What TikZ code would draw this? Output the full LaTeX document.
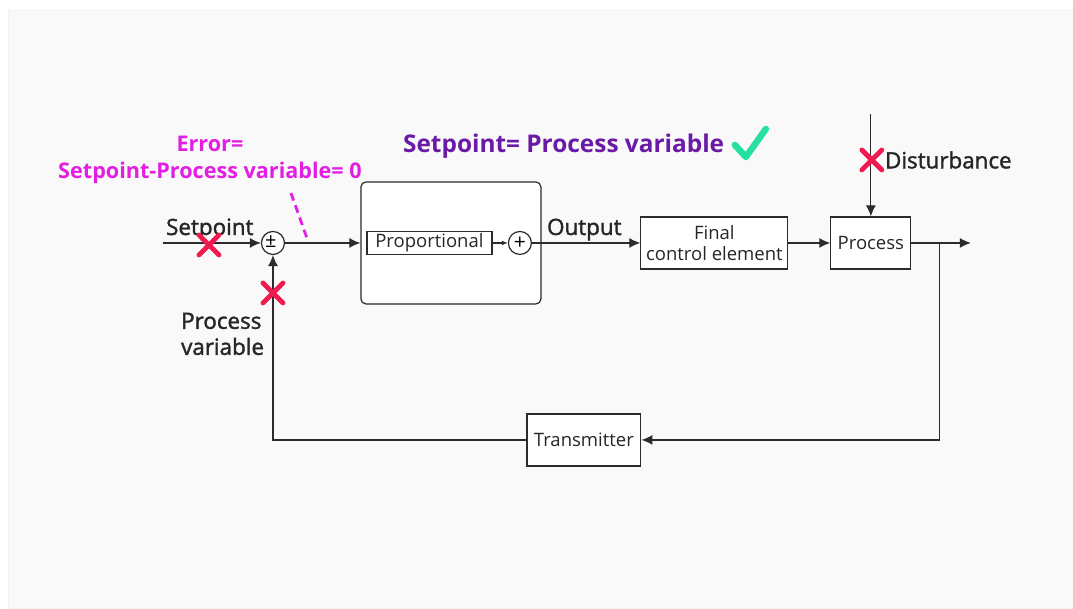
\documentclass[tikz,border=0pt]{standalone}
\usepackage{fontspec}
\setmainfont{Open Sans}
\newfontfamily\labelfont[FakeBold=1.6]{Open Sans}
\usetikzlibrary{arrows.meta,positioning}
\definecolor{panel}{HTML}{F9F9F9}
\definecolor{crossred}{HTML}{EF1A4F}
\definecolor{checkgreen}{HTML}{25E0A2}
\definecolor{titlepurple}{HTML}{6A1AA6}
\definecolor{errmagenta}{HTML}{E31EE3}
\definecolor{linegray}{HTML}{2B2B2B}
\newcommand\boxfont{\fontsize{18.5}{21}\selectfont}
\newcommand\lblfont{\labelfont\fontsize{22.4}{26}\selectfont}
\tikzset{
  redx/.pic={\draw[draw=crossred, line width=4.8pt, line cap=round] (-10,-10) -- (10,10) (-10,10) -- (10,-10);}
}

\begin{document}
\begin{tikzpicture}[x=1pt,y=-1pt,
  block/.style={draw=linegray, line width=1.2pt, fill=white, font=\boxfont, align=center, inner sep=0pt, text=black!85},
  sumnode/.style={circle, draw=linegray, line width=1.2pt, fill=white, minimum size=23, inner sep=0pt, font=\fontsize{21}{21}\selectfont},
  wire/.style={draw=linegray, line width=1.2pt},
  arr/.style={wire, -{Latex[length=11pt,width=10pt]}},
  smallarr/.style={wire, -{Latex[length=6pt,width=5pt]}},
  lbl/.style={font=\lblfont, text=black!85, inner sep=0pt},
]
\fill[white] (0,0) rectangle (1073,608);
\filldraw[fill=panel, draw=black!6] (8,10) rectangle (1073,608);
\useasboundingbox (0,0) rectangle (1073,608);

% blocks
\node[sumnode] (sum1) at (273,243) {};
\node[font=\fontsize{20}{20}\selectfont, inner sep=0pt] (sign) at (271,242) {±};
\node[block, rounded corners=5pt, minimum width=180, minimum height=122] (ctrl) at (451,243) {};
\node[block, minimum width=125, minimum height=23] (prop) at (429.5,243) {Proportional};
\node[sumnode] (sum2) at (520,243) {+};
\node[block, minimum width=147, minimum height=52] (fce) at (714.5,243) {Final\\[0pt]control element};
\node[block, minimum width=80, minimum height=52] (proc) at (871,243) {Process};
\node[block, minimum width=114, minimum height=52] (trans) at (584,440) {Transmitter};

\coordinate (spin) at (163,243);
\coordinate (tap) at (940,243);
\coordinate (out) at (971,243);
\coordinate (dist) at (871,114);

% connectors
\draw[arr] (spin) -- (sum1);
\draw[arr] (sum1) -- (ctrl);
\draw[smallarr] (prop) -- (sum2);
\draw[arr] (sum2) -- (fce);
\draw[arr] (fce) -- (proc);
\draw[arr] (proc) -- (out);
\draw[arr] (tap) |- (trans);
\draw[arr] (trans) -| (sum1);
\draw[arr] (dist) -- (proc);

% labels
\node[lbl, anchor=base west] (splbl) at (166,235) {Setpoint};
\node[lbl, anchor=base west] (outlbl) at (547,235) {Output};
\node[lbl, anchor=west, align=left] (pvlbl) at (181,334) {Process\\variable};
\node[lbl, anchor=west] (distlbl) at (885,160) {Disturbance};
\node[font=\bfseries\fontsize{24.4}{28}\selectfont, text=titlepurple, anchor=west, inner sep=0pt] (title) at (403,146) {Setpoint= Process variable};
\node[font=\bfseries\fontsize{21.6}{27}\selectfont, text=errmagenta, align=center, inner sep=0pt] (err) at (210,160) {Error=\\Setpoint-Process variable= 0};

% marks
\draw[errmagenta, line width=2.8pt, dash pattern=on 8pt off 5pt] (291,193) -- (308,241);
\draw[checkgreen, line width=6.5pt, line cap=round, line join=round] (735,145) -- (746,157) -- (766,129);
\pic at (209,245) {redx};
\pic at (273,293) {redx};
\pic at (872,160) {redx};
\end{tikzpicture}
\end{document}
